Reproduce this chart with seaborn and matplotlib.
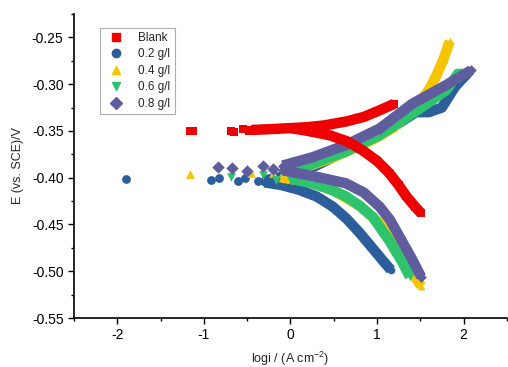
"""
Tafel polarisation curves (E vs log i) for the blank and four inhibitor doses.
"""

import pandas as pd
import matplotlib.pyplot as plt
import seaborn as sns
from matplotlib.ticker import MultipleLocator, FormatStrFormatter
from matplotlib.lines import Line2D

# === DATA ===
LABELS = ["Blank", "0.2 g/l", "0.4 g/l", "0.6 g/l", "0.8 g/l"]

# Blank
blank_free_logi = [-1.16, -1.12, -0.69, -0.65, -0.55, -0.48]
blank_free_E = [-0.350, -0.350, -0.350, -0.351, -0.348, -0.350]
blank_anod_logi = [-0.45, -0.2, 0.0, 0.2, 0.4, 0.64, 0.85, 1.03, 1.2]
blank_anod_E = [-0.349, -0.348, -0.347, -0.346, -0.344, -0.340, -0.335, -0.328, -0.321]
blank_cath_logi = [0.0, 0.2, 0.45, 0.65, 0.83, 1.0, 1.14, 1.25, 1.34, 1.44, 1.51]
blank_cath_E = [-0.347, -0.350, -0.3546, -0.361, -0.3706, -0.382, -0.395, -0.408, -0.420, -0.431, -0.438]

# 0.2 g/l
c02_free_logi = [-1.90, -0.92, -0.82, -0.60, -0.53, -0.38]
c02_free_E = [-0.4015, -0.4026, -0.4005, -0.4033, -0.400, -0.404]
c02_anod_logi = [-0.3, 0.0, 0.3, 0.6, 0.9, 1.2, 1.45, 1.6, 1.75, 1.9, 2.05]
c02_anod_E = [-0.403, -0.397, -0.387, -0.373, -0.360, -0.345, -0.330, -0.330, -0.325, -0.303, -0.288]
c02_cath_logi = [-0.3, -0.1, 0.1, 0.3, 0.49, 0.65, 0.80, 0.99, 1.08, 1.16]
c02_cath_E = [-0.405, -0.408, -0.413, -0.420, -0.431, -0.444, -0.459, -0.480, -0.490, -0.4987]

# 0.4 g/l
c04_free_logi = [-1.16, -0.45, -0.20]
c04_free_E = [-0.3966, -0.3948, -0.395]
c04_anod_logi = [-0.1, 0.2, 0.5, 0.8, 1.0, 1.18, 1.35, 1.49, 1.6, 1.68, 1.77, 1.84]
c04_anod_E = [-0.396, -0.388, -0.378, -0.366, -0.357, -0.347, -0.334, -0.320, -0.306, -0.292, -0.273, -0.254]
c04_cath_logi = [-0.1, 0.2, 0.5, 0.8, 1.03, 1.2, 1.35, 1.45, 1.51]
c04_cath_E = [-0.400, -0.404, -0.414, -0.430, -0.4485, -0.469, -0.492, -0.507, -0.516]

# 0.6 g/l
c06_free_logi = [-0.69, -0.32, -0.17]
c06_free_E = [-0.399, -0.397, -0.4026]
c06_anod_logi = [0.0, 0.26, 0.64, 1.03, 1.41, 1.8, 1.95]
c06_anod_E = [-0.396, -0.385, -0.372, -0.3546, -0.3314, -0.3066, -0.287]
c06_cath_logi = [0.0, 0.25, 0.45, 0.64, 0.8, 0.95, 1.14, 1.30, 1.38]
c06_cath_E = [-0.401, -0.406, -0.412, -0.420, -0.430, -0.442, -0.467, -0.4915, -0.506]

# 0.8 g/l
c08_free_logi = [-0.84, -0.67, -0.50, -0.32, -0.20]
c08_free_E = [-0.389, -0.390, -0.393, -0.388, -0.391]
c08_anod_logi = [-0.09, 0.26, 0.64, 1.03, 1.41, 1.80, 2.09]
c08_anod_E = [-0.387, -0.378, -0.365, -0.3475, -0.3208, -0.301, -0.285]
c08_cath_logi = [-0.09, 0.3, 0.64, 0.85, 1.03, 1.15, 1.26, 1.41, 1.51]
c08_cath_E = [-0.392, -0.399, -0.406, -0.416, -0.431, -0.445, -0.463, -0.488, -0.506]

COLORS = {"Blank": "#EE0000", "0.2 g/l": "#2C5E9B", "0.4 g/l": "#F7C400",
          "0.6 g/l": "#2EC46E", "0.8 g/l": "#5F5D9E"}
MARKERS = {"Blank": "s", "0.2 g/l": "o", "0.4 g/l": "^", "0.6 g/l": "v", "0.8 g/l": "D"}

series = {
    "Blank": (blank_free_logi, blank_free_E, blank_anod_logi, blank_anod_E, blank_cath_logi, blank_cath_E),
    "0.2 g/l": (c02_free_logi, c02_free_E, c02_anod_logi, c02_anod_E, c02_cath_logi, c02_cath_E),
    "0.4 g/l": (c04_free_logi, c04_free_E, c04_anod_logi, c04_anod_E, c04_cath_logi, c04_cath_E),
    "0.6 g/l": (c06_free_logi, c06_free_E, c06_anod_logi, c06_anod_E, c06_cath_logi, c06_cath_E),
    "0.8 g/l": (c08_free_logi, c08_free_E, c08_anod_logi, c08_anod_E, c08_cath_logi, c08_cath_E),
}

sns.set_style("ticks")
plt.rcParams["font.family"] = ["Liberation Sans", "DejaVu Sans"]
plt.rcParams["axes.unicode_minus"] = False
plt.rcParams["mathtext.default"] = "regular"

fig = plt.figure(figsize=(5.08, 3.67), dpi=100)
ax = fig.add_axes([0.1457, 0.1335, 0.852, 0.8285])

# drawing order: blue, yellow, green, purple, then red on top
order = ["0.2 g/l", "0.4 g/l", "0.6 g/l", "0.8 g/l", "Blank"]
for z, name in enumerate(order):
    fx, fy, ax_, ay, cx, cy = series[name]
    col = COLORS[name]
    mk = MARKERS[name]
    for bx, by in [(ax_, ay), (cx, cy)]:
        df = pd.DataFrame({"logi": bx, "E": by})
        sns.lineplot(data=df, x="logi", y="E", sort=False, color=col, lw=7.5,
                     solid_capstyle="butt", ax=ax, zorder=2 + z, estimator=None)
        sns.scatterplot(data=df, x="logi", y="E", color=col, marker=mk, s=30,
                        linewidth=0, ax=ax, zorder=2 + z)
    dff = pd.DataFrame({"logi": fx, "E": fy})
    sns.scatterplot(data=dff, x="logi", y="E", color=col, marker=mk, s=40,
                    linewidth=0, ax=ax, zorder=2 + z)

ax.set_xlim(-2.5, 2.5)
ax.set_ylim(-0.55, -0.225)
ax.xaxis.set_major_locator(MultipleLocator(1))
ax.xaxis.set_minor_locator(MultipleLocator(0.5))
ax.yaxis.set_major_locator(MultipleLocator(0.05))
ax.yaxis.set_minor_locator(MultipleLocator(0.025))
ax.yaxis.set_major_formatter(FormatStrFormatter("%.2f"))
ax.tick_params(which="major", length=4, width=1, labelsize=10, colors="black")
ax.tick_params(which="minor", length=2.5, width=1, colors="black")
sns.despine(ax=ax)
for s in ["left", "bottom"]:
    ax.spines[s].set_linewidth(1.2)
    ax.spines[s].set_color("black")

ax.set_xlabel("logi / (A cm$^{-2}$)", fontsize=9, labelpad=5)
ax.set_ylabel("E (vs. SCE)/V", fontsize=9, labelpad=6)

handles = [Line2D([], [], ls="none", marker=MARKERS[n], color=COLORS[n], markersize=6)
           for n in LABELS]
leg = ax.legend(handles, LABELS, loc="upper left", bbox_to_anchor=(0.06, 0.955),
                borderaxespad=0, fontsize=8.5, frameon=True, fancybox=False,
                edgecolor="#999999", labelspacing=0.38, handletextpad=0.9,
                borderpad=0.35)
leg.get_frame().set_linewidth(0.8)

fig.savefig("out.png", dpi=100)
